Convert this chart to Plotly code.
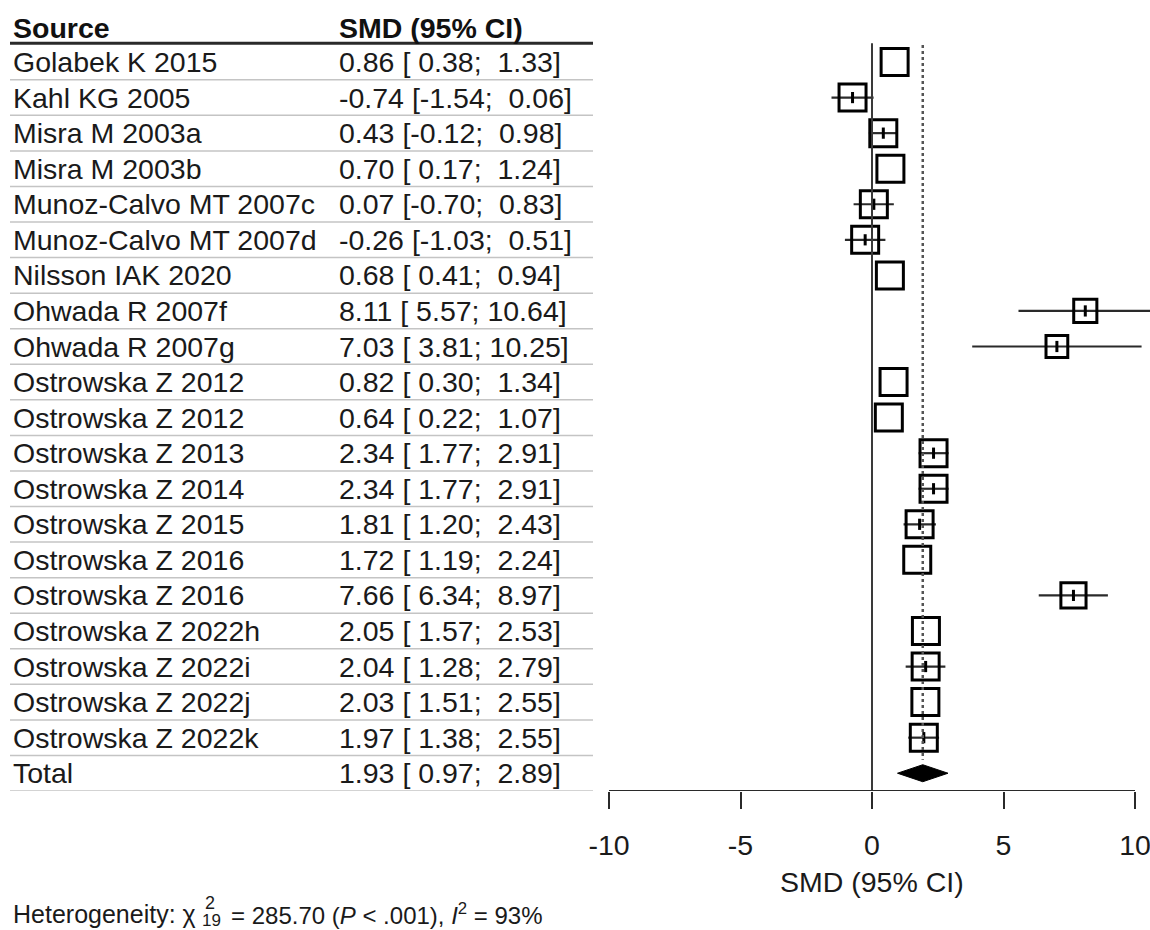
import numpy as np
import plotly.graph_objects as go

# ---------------- data ----------------
studies = [
    "Golabek K 2015", "Kahl KG 2005", "Misra M 2003a", "Misra M 2003b",
    "Munoz-Calvo MT 2007c", "Munoz-Calvo MT 2007d", "Nilsson IAK 2020",
    "Ohwada R 2007f", "Ohwada R 2007g", "Ostrowska Z 2012", "Ostrowska Z 2012",
    "Ostrowska Z 2013", "Ostrowska Z 2014", "Ostrowska Z 2015", "Ostrowska Z 2016",
    "Ostrowska Z 2016", "Ostrowska Z 2022h", "Ostrowska Z 2022i",
    "Ostrowska Z 2022j", "Ostrowska Z 2022k",
]
smd = [0.86, -0.74, 0.43, 0.70, 0.07, -0.26, 0.68, 8.11, 7.03, 0.82, 0.64,
       2.34, 2.34, 1.81, 1.72, 7.66, 2.05, 2.04, 2.03, 1.97]
ci_low = [0.38, -1.54, -0.12, 0.17, -0.70, -1.03, 0.41, 5.57, 3.81, 0.30, 0.22,
          1.77, 1.77, 1.20, 1.19, 6.34, 1.57, 1.28, 1.51, 1.38]
ci_high = [1.33, 0.06, 0.98, 1.24, 0.83, 0.51, 0.94, 10.64, 10.25, 1.34, 1.07,
           2.91, 2.91, 2.43, 2.24, 8.97, 2.53, 2.79, 2.55, 2.55]
# approximate study weights (%)
weights = [4.95, 4.95, 4.95, 4.95, 4.95, 4.95, 4.95, 3.76, 3.37, 4.95, 4.95,
           4.95, 4.95, 4.95, 4.95, 4.36, 4.95, 4.95, 4.95, 4.95]

total_label = "Total"
total_smd, total_low, total_high = 1.93, 0.97, 2.89

x_ticks = [-10, -5, 0, 5, 10]
header_source = "Source"
header_value = "SMD (95% CI)"
axis_title = "SMD (95% CI)"
het_chi2, het_df, het_p, het_i2 = "285.70", "19", "< .001", "93%"

# ---------------- layout geometry ----------------
W, H = 1150, 930
AX_LEFT_PX, AX_RIGHT_PX = 609, 1135          # pixels of x = -10 and x = 10
PXU = (AX_RIGHT_PX - AX_LEFT_PX) / (x_ticks[-1] - x_ticks[0])
ROW0_PX, ROW_STEP = 62, 35.55                 # first row centre, row spacing
AXIS_Y_PX = 791
n = len(studies)
total_row = n
y_bottom = total_row + 0.5
y_top = -ROW0_PX / ROW_STEP
x_right = x_ticks[-1] + (W - AX_RIGHT_PX) / PXU

TXT = "#1a1a1a"
FONT = "Liberation Sans, Arial, sans-serif"
FS = 28.5

rows = list(range(n))

# box sizes from weights
box_outer = [30 * np.sqrt(w / 4.95) for w in weights]
box_lw = 3
box_size = [b - box_lw for b in box_outer]

# CI line drawn only when it reaches outside the box
show_ci = [max(m - lo, hi - m) * PXU > 14.35 * b / 30
           for m, lo, hi, b in zip(smd, ci_low, ci_high, box_outer)]

ci_x, ci_y = [], []
tick_x, tick_y = [], []
for r, m, lo, hi, s in zip(rows, smd, ci_low, ci_high, show_ci):
    if s:
        ci_x += [lo, hi, None]
        ci_y += [r, r, None]
        tick_x.append(m)
        tick_y.append(r)

fig = go.Figure()

fig.add_trace(go.Scatter(x=ci_x, y=ci_y, mode="lines",
                         line=dict(color="#2a2a2a", width=2.2),
                         hoverinfo="skip", showlegend=False))
fig.add_trace(go.Scatter(x=smd, y=rows, mode="markers",
                         marker=dict(symbol="square-open", size=box_size,
                                     color="#000000", opacity=1,
                                     line=dict(width=box_lw, color="#000000")),
                         showlegend=False))
fig.add_trace(go.Scatter(x=tick_x, y=tick_y, mode="markers",
                         marker=dict(symbol="line-ns-open", size=8,
                                     color="#000000",
                                     line=dict(width=3, color="#000000")),
                         hoverinfo="skip", showlegend=False))

dh = 8.5 / ROW_STEP
fig.add_trace(go.Scatter(
    x=[total_low, total_smd, total_high, total_smd, total_low],
    y=[total_row, total_row - dh, total_row, total_row + dh, total_row],
    mode="lines", fill="toself", fillcolor="#000000",
    line=dict(color="#000000", width=1), hoverinfo="skip", showlegend=False))

shapes = []
# zero line
shapes.append(dict(type="line", xref="x", yref="y", x0=0, x1=0,
                   y0=-0.53, y1=y_bottom, line=dict(color="#3a3a3a", width=2)))
# pooled estimate dotted line
shapes.append(dict(type="line", xref="x", yref="y", x0=total_smd, x1=total_smd,
                   y0=-0.48, y1=total_row - 0.38,
                   line=dict(color="#555555", width=2.5, dash="dot")))
# axis line from -10 to 10
shapes.append(dict(type="line", xref="x", yref="y", x0=x_ticks[0], x1=x_ticks[-1],
                   y0=y_bottom, y1=y_bottom, line=dict(color="#2a2a2a", width=2)))
# table lines
TL, TR = 10 / W, 593 / W
shapes.append(dict(type="line", xref="paper", yref="y", x0=TL, x1=TR,
                   y0=-0.53, y1=-0.53, line=dict(color="#2a2a2a", width=3)))
for r in range(n + 1):
    shapes.append(dict(type="line", xref="paper", yref="y", x0=TL, x1=TR,
                       y0=r + 0.5, y1=r + 0.5,
                       line=dict(color="#c4c4c4", width=1.5)))

NB = "\u00a0"


def fmt(m, lo, hi):
    s = f"{m:.2f} [{lo:5.2f}; {hi:5.2f}]"
    return s.replace(" ", NB)


annotations = []
NAME_X, VAL_X = 11 / W, 337 / W
annotations.append(dict(xref="paper", yref="y", x=NAME_X, y=-0.96,
                        text=f"<b>{header_source}</b>", showarrow=False,
                        xanchor="left", yanchor="middle",
                        font=dict(size=FS, color="#111111", family=FONT)))
annotations.append(dict(xref="paper", yref="y", x=VAL_X, y=-0.96,
                        text=f"<b>{header_value}</b>", showarrow=False,
                        xanchor="left", yanchor="middle",
                        font=dict(size=FS, color="#111111", family=FONT)))
labels = studies + [total_label]
vals = [fmt(m, lo, hi) for m, lo, hi in zip(smd, ci_low, ci_high)]
vals.append(fmt(total_smd, total_low, total_high))
for r, (lab, v) in enumerate(zip(labels, vals)):
    annotations.append(dict(xref="paper", yref="y", x=NAME_X, y=r, text=lab,
                            showarrow=False, xanchor="left", yanchor="middle",
                            font=dict(size=FS, color=TXT, family=FONT)))
    annotations.append(dict(xref="paper", yref="y", x=VAL_X, y=r, text=v,
                            showarrow=False, xanchor="left", yanchor="middle",
                            font=dict(size=FS, color=TXT, family=FONT)))

# axis title
annotations.append(dict(xref="x", yref="paper", x=0, y=1 - 882 / H,
                        text=axis_title, showarrow=False,
                        xanchor="center", yanchor="middle",
                        font=dict(size=FS, color=TXT, family=FONT)))

# heterogeneity line
hy = 1 - 914 / H
annotations.append(dict(xref="paper", yref="paper", x=11 / W, y=hy,
                        text="Heterogeneity: χ", showarrow=False,
                        xanchor="left", yanchor="middle",
                        font=dict(size=25, color=TXT, family=FONT)))
annotations.append(dict(xref="paper", yref="paper", x=203 / W, y=1 - 903 / H,
                        text="2", showarrow=False, xanchor="left", yanchor="middle",
                        font=dict(size=18, color=TXT, family=FONT)))
annotations.append(dict(xref="paper", yref="paper", x=200 / W, y=1 - 920 / H,
                        text=het_df, showarrow=False, xanchor="left", yanchor="middle",
                        font=dict(size=17, color=TXT, family=FONT)))
annotations.append(dict(xref="paper", yref="paper", x=229 / W, y=hy,
                        text=f"= {het_chi2} (<i>P</i> {het_p}), <i>I</i><sup>2</sup> = {het_i2}",
                        showarrow=False, xanchor="left", yanchor="middle",
                        font=dict(size=24, color=TXT, family=FONT)))

fig.update_layout(
    width=W, height=H,
    margin=dict(l=0, r=0, t=0, b=0, pad=0, autoexpand=False),
    paper_bgcolor="white", plot_bgcolor="white",
    shapes=shapes, annotations=annotations,
    showlegend=False,
    xaxis=dict(domain=[AX_LEFT_PX / W, 1.0], range=[x_ticks[0], x_right],
               tickmode="array", tickvals=x_ticks, ticktext=[str(t) for t in x_ticks],
               ticks="outside", ticklen=17, tickwidth=2, tickcolor="#2a2a2a",
               showline=False, showgrid=False, zeroline=False,
               tickfont=dict(size=FS, color=TXT, family=FONT),
               ticklabelstandoff=12, ticklabeloverflow="allow",
               automargin=False, fixedrange=True),
    yaxis=dict(domain=[1 - AXIS_Y_PX / H, 1.0], range=[y_bottom, y_top],
               visible=False, automargin=False, fixedrange=True),
)

fig.write_html("out.html")
